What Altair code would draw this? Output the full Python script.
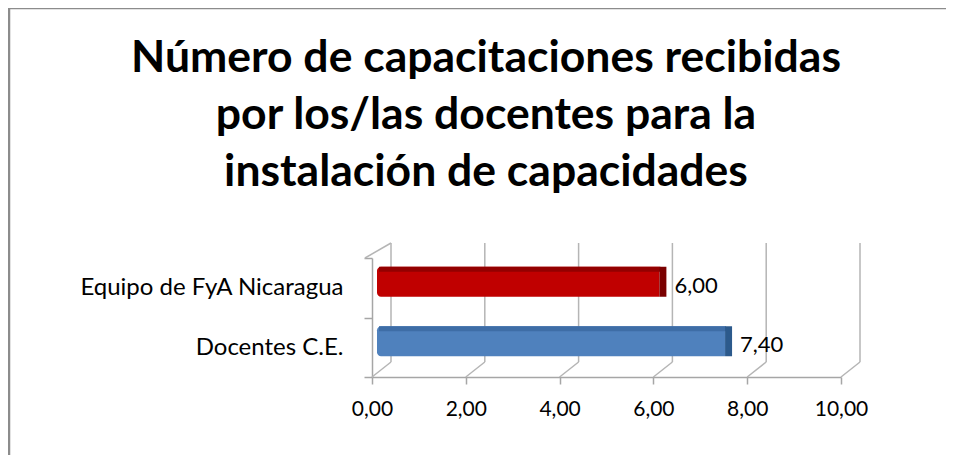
import altair as alt
import pandas as pd

categories = ["Equipo de FyA Nicaragua", "Docentes C.E."]
values = [6.00, 7.40]
value_labels = ["6,00", "7,40"]
front_colors = ["#C00000", "#4F81BD"]
top_colors = ["#930000", "#3E6DA6"]
end_colors = ["#7A0000", "#2C5A8C"]
grid_ticks = [0, 2, 4, 6, 8, 10]
title_lines = ["Número de capacitaciones recibidas",
               "por los/las docentes para la",
               "instalación de capacidades"]

bars = pd.DataFrame({"cat": categories, "value": values, "label": value_labels,
                     "front": front_colors, "top": top_colors, "end": end_colors})
grid = pd.DataFrame({"v": grid_ticks})
one = pd.DataFrame({"a": [0]})

W, H = 469, 119
FONT = "Lato"
GRID = "#B5B5B5"

xscale = alt.Scale(domain=[0, 10], nice=False, zero=True)
yscale = alt.Scale(domain=categories, paddingInner=0, paddingOuter=0)

border = alt.Chart(one).mark_rect(fillOpacity=0, stroke="#8C8C8C", strokeWidth=2.5).encode(
    x=alt.value(-363), x2=alt.value(W + 200), y=alt.value(-250), y2=alt.value(H + 300))

title = alt.Chart(one).mark_text(text=title_lines, font=FONT, fontSize=44.5,
                                 fontWeight="bold", color="black", align="center",
                                 baseline="alphabetic", lineHeight=57).encode(
    x=alt.value(114), y=alt.value(-186))

back = alt.Chart(grid).mark_rule(color=GRID, strokeWidth=1.5, xOffset=19).encode(
    x=alt.X("v:Q", scale=xscale), y=alt.value(-15), y2=alt.value(H - 15))

diag = alt.Chart(grid).mark_rule(color=GRID, strokeWidth=1.5, x2Offset=19).encode(
    x=alt.X("v:Q", scale=xscale), x2=alt.X2("v:Q"),
    y=alt.value(H), y2=alt.value(H - 15))

topdiag = alt.Chart(one).mark_rule(color=GRID, strokeWidth=1.5, xOffset=-7, x2Offset=19).encode(
    x=alt.datum(0, scale=xscale), x2=alt.datum(0), y=alt.value(0), y2=alt.value(-15))

front = alt.Chart(bars).mark_bar(height=30, yOffset=-6, xOffset=6, x2Offset=5,
                                 cornerRadiusTopLeft=4, cornerRadiusBottomLeft=4).encode(
    x=alt.X("value:Q", scale=xscale,
            axis=alt.Axis(values=grid_ticks, grid=False, title=None, labelFlush=False,
                          labelExpr="replace(format(datum.value, '.2f'), '.', ',')",
                          domainColor="#A6A6A6", domainWidth=1.5, tickColor="#A6A6A6",
                          tickWidth=1.5, tickSize=7, labelFont=FONT, labelFontSize=21,
                          labelColor="black", labelPadding=14)),
    x2=alt.datum(0),
    y=alt.Y("cat:N", scale=yscale, sort=categories,
            axis=alt.Axis(title=None, tickBand="extent", tickSize=8, tickColor="#A6A6A6",
                          tickWidth=1.5, domainColor="#A6A6A6", domainWidth=1.5,
                          labelFont=FONT, labelFontSize=24, labelColor="black",
                          labelPadding=21, labelLimit=400)),
    color=alt.Color("front:N", scale=None),
)

topface = alt.Chart(bars).mark_bar(height=5, yOffset=-18.5, xOffset=7, x2Offset=7).encode(
    x=alt.X("value:Q", scale=xscale), x2=alt.datum(0),
    y=alt.Y("cat:N", scale=yscale, sort=categories),
    color=alt.Color("top:N", scale=None))

cap = alt.Chart(bars).mark_tick(thickness=7, size=30, yOffset=-6, xOffset=9.5, opacity=1).encode(
    x=alt.X("value:Q", scale=xscale), y=alt.Y("cat:N", scale=yscale, sort=categories),
    color=alt.Color("end:N", scale=None))

labels = alt.Chart(bars).mark_text(align="left", baseline="middle", dx=21, dy=-2,
                                   font=FONT, fontSize=22, color="black").encode(
    x=alt.X("value:Q", scale=xscale), y=alt.Y("cat:N", scale=yscale, sort=categories),
    text="label:N")

chart = alt.layer(border, title, back, diag, topdiag, front, topface, cap, labels).properties(
    width=W, height=H,
    padding={"left": 364, "top": 250, "right": 105, "bottom": 78},
    autosize="none",
).configure_view(stroke=None)

chart.save("out.html", embed_options={"renderer": "svg", "actions": False})
